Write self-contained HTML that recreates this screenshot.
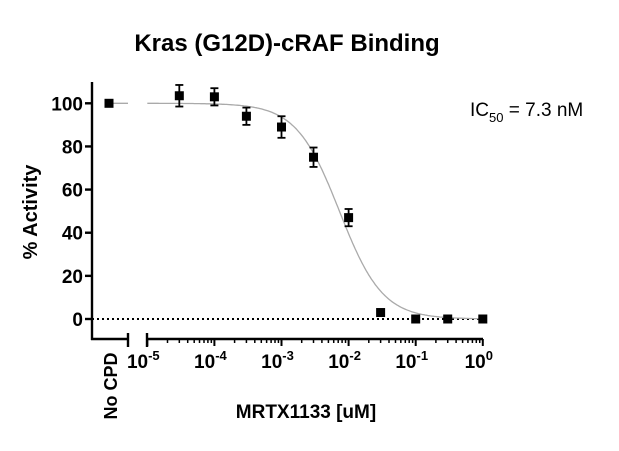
<!DOCTYPE html>
<html><head><meta charset="utf-8"><style>
body{margin:0;background:#fff;}
svg{display:block;font-family:"Liberation Sans",Arial,sans-serif;}
</style></head><body>
<svg id="s" width="619" height="451" xmlns="http://www.w3.org/2000/svg">
<text x="287" y="51" text-anchor="middle" font-size="24" font-weight="bold">Kras (G12D)-cRAF Binding</text>
<text transform="translate(37,212) rotate(-90)" text-anchor="middle" font-size="20" font-weight="bold">% Activity</text>
<text x="306" y="418" text-anchor="middle" font-size="19" font-weight="bold">MRTX1133 [uM]</text>
<text transform="translate(117,386) rotate(-90)" text-anchor="middle" font-size="18" font-weight="bold">No CPD</text>
<text x="470" y="116" font-size="19">IC<tspan font-size="13" dy="6">50</tspan><tspan dy="-6"> = 7.3 nM</tspan></text>
<g stroke="#000" stroke-width="2.4" fill="none">
<line x1="92" y1="82" x2="92" y2="340"/>
<line x1="91" y1="339" x2="128" y2="339"/>
<line x1="128" y1="333" x2="128" y2="347"/>
<line x1="147" y1="333" x2="147" y2="347"/>
<line x1="147" y1="339" x2="483" y2="339"/>
</g>
<g id="yt" font-size="19" font-weight="bold" text-anchor="end"></g>
<g id="xt" font-size="19" font-weight="bold" text-anchor="middle"></g>
<line x1="92" y1="319" x2="483" y2="319" stroke="#000" stroke-width="2" stroke-dasharray="2,3"/>
<line x1="111" y1="103.3" x2="128" y2="103.3" stroke="#aaa" stroke-width="1.3"/>
<path id="curve" stroke="#aaa" stroke-width="1.3" fill="none"/>
<g id="pts"></g>
</svg>
<script>
var ns="http://www.w3.org/2000/svg",s=document.getElementById('s');
function el(t,a,p,txt){var e=document.createElementNS(ns,t);for(var k in a)e.setAttribute(k,a[k]);if(txt)e.textContent=txt;(p||s).appendChild(e);return e;}
function Y(v){return 319-v*2.157;}
function X(l){return 147.3+(l+5)*67.1;}
var yt=document.getElementById('yt'),xt=document.getElementById('xt');
for(var v=0;v<=100;v+=20){el('line',{x1:85,y1:Y(v),x2:92,y2:Y(v),stroke:'#000','stroke-width':2.4});el('text',{x:83,y:Y(v)+7},yt,String(v));}
for(var d=-5;d<=0;d++){var x=X(d);el('line',{x1:x,y1:339,x2:x,y2:346,stroke:'#000','stroke-width':2});
 var t=el('text',{x:x-4,y:368},xt,'10');var ts=el('tspan',{dy:-8,'font-size':13},t,String(d==0?'0':'-'+(-d)));
 if(d<0)for(var m=2;m<10;m++){var xm=X(d+Math.log10(m));el('line',{x1:xm,y1:339,x2:xm,y2:343,stroke:'#000','stroke-width':1.5});}}
var p='';for(var l=-5;l<=0.001;l+=0.02){var c=Math.pow(10,l),y=100/(1+Math.pow(c/7.3e-3,1.35));p+=(p?'L':'M')+X(l).toFixed(1)+','+Y(y).toFixed(1);}
document.getElementById('curve').setAttribute('d',p);
var g=document.getElementById('pts');
var data=[[3e-5,103.5,5],[1e-4,103,4],[3e-4,94,4],[1e-3,89,5],[3e-3,75,4.5],[1e-2,47,4],[3e-2,3,0],[0.1,0,0],[0.3,0,0],[1,0,0]];
function pt(x,v,e){if(e){el('line',{x1:x,y1:Y(v+e),x2:x,y2:Y(v-e),stroke:'#000','stroke-width':1.8},g);
 el('line',{x1:x-4,y1:Y(v+e),x2:x+4,y2:Y(v+e),stroke:'#000','stroke-width':1.8},g);
 el('line',{x1:x-4,y1:Y(v-e),x2:x+4,y2:Y(v-e),stroke:'#000','stroke-width':1.8},g);}
 el('rect',{x:x-4.5,y:Y(v)-4.5,width:9,height:9,fill:'#000'},g);}
pt(109,100,0);
data.forEach(function(d){pt(X(Math.log10(d[0])),d[1],d[2]);});
</script>
</body></html>
